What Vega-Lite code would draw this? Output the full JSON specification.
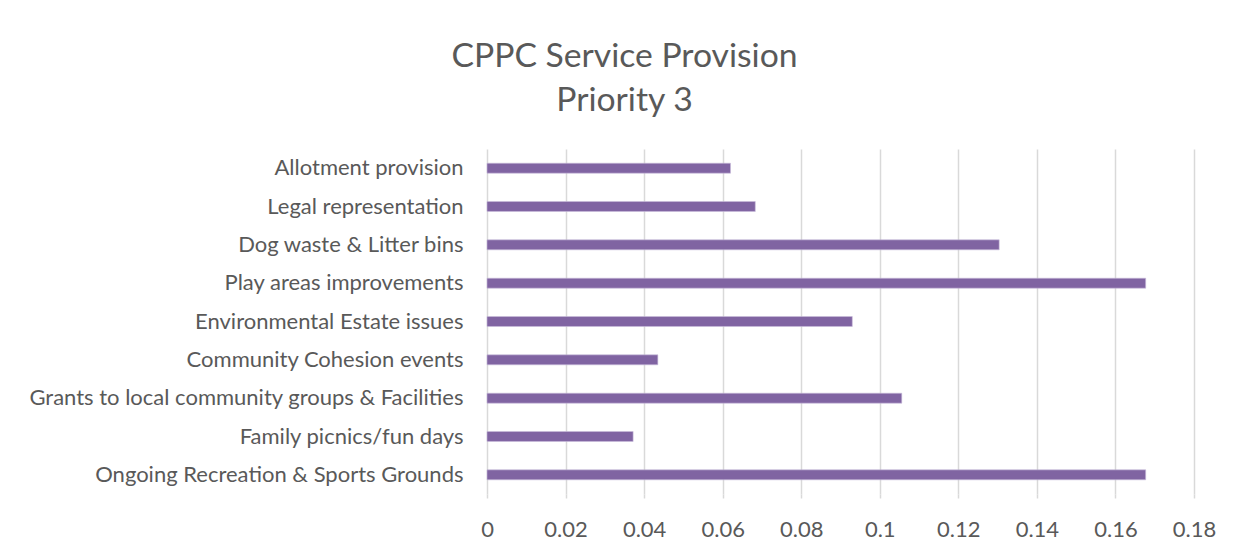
{
  "$schema": "https://vega.github.io/schema/vega-lite/v6.json",
  "width": 707,
  "height": 345,
  "autosize": {"type": "none"},
  "padding": {"left": 487, "top": 149, "right": 48, "bottom": 60},
  "background": "white",
  "title": {
    "text": ["CPPC Service Provision", "Priority 3"],
    "anchor": "middle",
    "frame": "group",
    "dx": -216,
    "offset": 31,
    "font": "Lato",
    "fontSize": 33.7,
    "fontWeight": "normal",
    "color": "#595959",
    "lineHeight": 44
  },
  "data": {
    "values": [
      {"service": "Allotment provision", "value": 0.0620},
      {"service": "Legal representation", "value": 0.0683},
      {"service": "Dog waste & Litter bins", "value": 0.1304},
      {"service": "Play areas improvements", "value": 0.1677},
      {"service": "Environmental Estate issues", "value": 0.0930},
      {"service": "Community Cohesion events", "value": 0.0435},
      {"service": "Grants to local community groups & Facilities", "value": 0.1056},
      {"service": "Family picnics/fun days", "value": 0.0372},
      {"service": "Ongoing Recreation & Sports Grounds", "value": 0.1677}
    ]
  },
  "mark": {"type": "bar", "color": "#8064a2", "stroke": "#c9bddb", "strokeWidth": 0.6},
  "encoding": {
    "y": {
      "field": "service",
      "type": "nominal",
      "sort": null,
      "scale": {"paddingInner": 0.74, "paddingOuter": 0.37},
      "axis": {
        "title": null,
        "ticks": false,
        "domain": false,
        "labelPadding": 24,
        "labelFont": "Lato",
        "labelFontSize": 22,
        "labelColor": "#595959",
        "labelLimit": 500
      }
    },
    "x": {
      "field": "value",
      "type": "quantitative",
      "scale": {"domain": [0, 0.18], "nice": false},
      "axis": {
        "title": null,
        "values": [0, 0.02, 0.04, 0.06, 0.08, 0.1, 0.12, 0.14, 0.16, 0.18],
        "format": "~g",
        "domain": false,
        "ticks": true,
        "tickSize": 4,
        "tickColor": "#d9d9d9",
        "tickWidth": 1.5,
        "grid": true,
        "gridColor": "#d9d9d9",
        "gridWidth": 1.5,
        "labelPadding": 21,
        "labelFont": "Lato",
        "labelFontSize": 22,
        "labelColor": "#595959",
        "labelFlush": false
      }
    }
  },
  "config": {"view": {"stroke": null}}
}
